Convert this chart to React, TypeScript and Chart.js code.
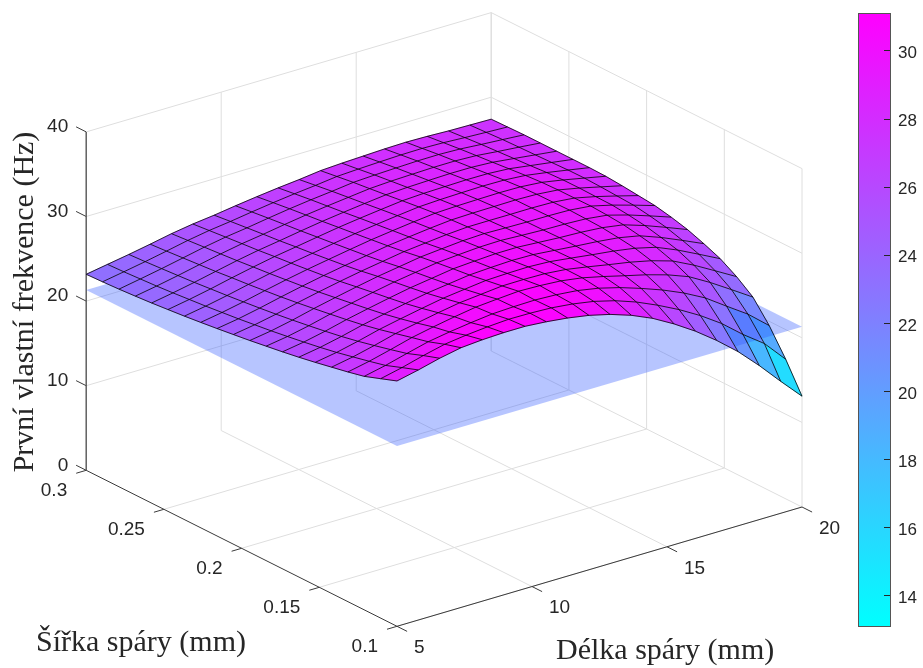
import React, { useEffect, useRef } from "react";
import { Chart, registerables } from "chart.js";

Chart.register(...registerables);

// ---- data ----
const slotLengths = [5, 5.79, 6.58, 7.37, 8.16, 8.95, 9.74, 10.53, 11.32, 12.11, 12.89, 13.68, 14.47, 15.26, 16.05, 16.84, 17.63, 18.42, 19.21, 20];
const slotWidths = [0.1, 0.1105, 0.1211, 0.1316, 0.1421, 0.1526, 0.1632, 0.1737, 0.1842, 0.1947, 0.2053, 0.2158, 0.2263, 0.2368, 0.2474, 0.2579, 0.2684, 0.2789, 0.2895, 0.3];
const firstFrequency = [
  [29.0, 29.56, 30.2, 30.7, 30.9, 31.0, 31.0, 30.8, 30.5, 30.07, 29.45, 28.6, 27.5, 26.1, 24.5, 22.66, 20.6, 18.2, 15.6, 13.1],
  [28.3, 28.87, 29.55, 30.14, 30.47, 30.71, 30.87, 30.84, 30.73, 30.45, 30.02, 29.36, 28.46, 27.34, 26.08, 24.63, 22.95, 20.91, 19.1, 16.5],
  [27.6, 28.15, 28.82, 29.46, 29.88, 30.23, 30.52, 30.63, 30.68, 30.56, 30.32, 29.86, 29.19, 28.35, 27.42, 26.32, 25.0, 23.28, 21.6, 19.5],
  [27.15, 27.67, 28.31, 28.99, 29.5, 29.96, 30.36, 30.57, 30.75, 30.67, 30.5, 30.12, 29.53, 28.88, 28.25, 27.5, 26.54, 25.11, 23.52, 21.9],
  [26.75, 27.22, 27.82, 28.49, 28.99, 29.47, 29.9, 30.16, 30.41, 30.43, 30.38, 30.14, 29.7, 29.22, 28.77, 28.2, 27.43, 26.19, 24.78, 23.35],
  [26.35, 26.78, 27.36, 28.01, 28.53, 29.02, 29.48, 29.79, 30.09, 30.18, 30.22, 30.09, 29.77, 29.43, 29.12, 28.71, 28.08, 27.01, 25.77, 24.5],
  [25.98, 26.4, 26.95, 27.58, 28.11, 28.61, 29.08, 29.42, 29.76, 29.9, 30.0, 29.95, 29.71, 29.47, 29.26, 28.97, 28.46, 27.52, 26.43, 25.3],
  [25.65, 26.06, 26.6, 27.23, 27.77, 28.29, 28.77, 29.14, 29.52, 29.69, 29.83, 29.84, 29.67, 29.5, 29.39, 29.19, 28.79, 27.96, 27.0, 26.0],
  [25.35, 25.75, 26.28, 26.91, 27.46, 27.99, 28.48, 28.87, 29.26, 29.46, 29.63, 29.68, 29.55, 29.44, 29.39, 29.27, 28.96, 28.24, 27.39, 26.5],
  [25.05, 25.45, 25.98, 26.6, 27.15, 27.68, 28.17, 28.57, 28.98, 29.21, 29.43, 29.53, 29.46, 29.41, 29.4, 29.33, 29.07, 28.44, 27.69, 26.9],
  [24.78, 25.19, 25.7, 26.3, 26.84, 27.35, 27.82, 28.23, 28.64, 28.91, 29.17, 29.34, 29.35, 29.34, 29.35, 29.29, 29.04, 28.47, 27.8, 27.1],
  [24.52, 24.93, 25.45, 26.03, 26.57, 27.07, 27.52, 27.94, 28.36, 28.67, 28.96, 29.2, 29.27, 29.3, 29.33, 29.26, 29.03, 28.51, 27.91, 27.3],
  [24.28, 24.71, 25.22, 25.8, 26.34, 26.83, 27.27, 27.7, 28.11, 28.44, 28.75, 29.02, 29.12, 29.17, 29.21, 29.17, 28.96, 28.5, 27.98, 27.45],
  [24.05, 24.49, 25.0, 25.57, 26.11, 26.6, 27.02, 27.45, 27.86, 28.2, 28.51, 28.8, 28.92, 28.99, 29.04, 29.0, 28.81, 28.41, 27.96, 27.5],
  [23.85, 24.3, 24.81, 25.38, 25.91, 26.4, 26.8, 27.22, 27.62, 27.96, 28.26, 28.55, 28.68, 28.74, 28.8, 28.78, 28.62, 28.25, 27.88, 27.5],
  [23.66, 24.11, 24.61, 25.16, 25.7, 26.17, 26.56, 26.98, 27.37, 27.7, 28.0, 28.29, 28.42, 28.5, 28.57, 28.56, 28.42, 28.12, 27.81, 27.5],
  [23.5, 23.95, 24.45, 24.99, 25.52, 25.99, 26.36, 26.77, 27.15, 27.47, 27.76, 28.05, 28.19, 28.27, 28.34, 28.35, 28.24, 27.98, 27.75, 27.5],
  [23.36, 23.82, 24.3, 24.82, 25.35, 25.8, 26.15, 26.55, 26.92, 27.24, 27.51, 27.82, 27.95, 28.04, 28.12, 28.14, 28.05, 27.85, 27.68, 27.5],
  [23.25, 23.69, 24.15, 24.65, 25.17, 25.6, 25.93, 26.31, 26.66, 26.97, 27.23, 27.54, 27.67, 27.77, 27.86, 27.89, 27.82, 27.68, 27.56, 27.45],
  [23.17, 23.6, 24.03, 24.5, 25.0, 25.4, 25.7, 26.07, 26.4, 26.7, 26.95, 27.26, 27.4, 27.5, 27.6, 27.65, 27.6, 27.5, 27.45, 27.4],
];
const requiredFrequency = 21.3;
const lengthTicks = [5, 10, 15, 20];
const widthTicks = [0.1, 0.15, 0.2, 0.25, 0.3];
const freqTicks = [0, 10, 20, 30, 40];
const widthTickLabels = ["0.1", "0.15", "0.2", "0.25", "0.3"];
const colorMin = 13.1;
const colorMax = 31.1;
const colorbarTicks = [14, 16, 18, 20, 22, 24, 26, 28, 30];

const zLabel = "První vlastní frekvence (Hz)";
const yLabel = "Šířka spáry (mm)";
const xLabel = "Délka spáry (mm)";

// ---- view: orthographic projection of the 3D axes box ----
const W = 923;
const H = 668;
function project(x: number, y: number, z: number) {
  return {
    x: 397 + (x - 5) * 27 - (y - 0.1) * 1554,
    y: 626.3 - (x - 5) * 7.953 - (y - 0.1) * 780 - z * 8.46,
  };
}
function coolColor(v: number) {
  const t = Math.min(1, Math.max(0, (v - colorMin) / (colorMax - colorMin)));
  return `rgb(${Math.round(255 * t)},${Math.round(255 * (1 - t))},255)`;
}
const GRID = "rgb(222,222,222)";
const AXIS = "#3a3a3a";
const TEXT = "#262626";
const TICK_FONT = '19px "Liberation Sans", Arial, sans-serif';
const LABEL_FONT = '30px "Liberation Serif", "Times New Roman", serif';

function lineSet(label: string, points: { x: number; y: number }[], color: string, width: number, order: number) {
  return {
    label,
    data: points,
    showLine: true,
    borderColor: color,
    backgroundColor: color,
    borderWidth: width,
    pointRadius: 0,
    tension: 0,
    fill: false,
    order,
    clip: false as const,
  };
}

function buildDatasets() {
  const sets: any[] = [];
  const xMin = lengthTicks[0];
  const xMax = lengthTicks[lengthTicks.length - 1];
  const yMin = widthTicks[0];
  const yMax = widthTicks[widthTicks.length - 1];
  const zMax = freqTicks[freqTicks.length - 1];
  // grid on the floor and the two back walls
  lengthTicks.forEach((x) => {
    if (x > xMin) {
      sets.push(lineSet("grid", [project(x, yMin, 0), project(x, yMax, 0), project(x, yMax, zMax)], GRID, 1, 5));
    }
  });
  widthTicks.forEach((y) => {
    if (y < yMax) {
      sets.push(lineSet("grid", [project(xMin, y, 0), project(xMax, y, 0), project(xMax, y, zMax)], GRID, 1, 5));
    }
  });
  freqTicks.forEach((z) => {
    if (z > 0) {
      sets.push(lineSet("grid", [project(xMin, yMax, z), project(xMax, yMax, z), project(xMax, yMin, z)], GRID, 1, 5));
    }
  });
  sets.push(lineSet("grid", [project(xMax, yMax, 0), project(xMax, yMax, zMax)], GRID, 1, 5));
  // dark axes
  sets.push(lineSet("axis", [project(xMin, yMin, 0), project(xMax, yMin, 0)], AXIS, 1, 4));
  sets.push(lineSet("axis", [project(xMin, yMax, 0), project(xMin, yMin, 0)], AXIS, 1, 4));
  sets.push(lineSet("axis", [project(xMin, yMax, 0), project(xMin, yMax, zMax)], "#555", 1.4, 4));
  lengthTicks.forEach((x) => sets.push(lineSet("tick", [project(x, yMin, 0), project(x, yMin - 0.0065, 0)], AXIS, 1, 4)));
  widthTicks.forEach((y) => sets.push(lineSet("tick", [project(xMin, y, 0), project(xMin - 0.37, y, 0)], AXIS, 1, 4)));
  freqTicks.forEach((z) => sets.push(lineSet("tick", [project(xMin, yMax, z), project(xMin, yMax + 0.0065, z)], AXIS, 1, 4)));
  // required frequency plane and surface nodes: painted by the cell plugin from these parsed points
  sets.push({
    ...lineSet("plane", [
      project(xMin, yMin, requiredFrequency),
      project(xMax, yMin, requiredFrequency),
      project(xMax, yMax, requiredFrequency),
      project(xMin, yMax, requiredFrequency),
    ], "rgba(0,0,0,0)", 0, 3),
    showLine: false,
  });
  const nodes: { x: number; y: number }[] = [];
  slotWidths.forEach((y, j) => slotLengths.forEach((x, i) => nodes.push(project(x, y, firstFrequency[j][i]))));
  sets.push({ ...lineSet("surface", nodes, "rgba(0,0,0,0)", 0, 3), showLine: false });
  // mesh lines
  slotWidths.forEach((y, j) =>
    sets.push(lineSet("mesh", slotLengths.map((x, i) => project(x, y, firstFrequency[j][i])), "#000", 0.8, 1))
  );
  slotLengths.forEach((x, i) =>
    sets.push(lineSet("mesh", slotWidths.map((y, j) => project(x, y, firstFrequency[j][i])), "#000", 0.8, 1))
  );
  return sets;
}

const surfacePlugin = {
  id: "surfaceCells",
  beforeDatasetDraw(chart: any, args: any) {
    const ds = chart.data.datasets[args.index];
    if (ds.label !== "surface") return;
    const ctx = chart.ctx;
    const meta = args.meta;
    const planeIdx = chart.data.datasets.findIndex((d: any) => d.label === "plane");
    const planePts = chart.getDatasetMeta(planeIdx).data;
    const nx = slotLengths.length;
    const ny = slotWidths.length;
    const cell = (i: number, j: number) => {
      const c = [meta.data[j * nx + i], meta.data[j * nx + i + 1], meta.data[(j + 1) * nx + i + 1], meta.data[(j + 1) * nx + i]];
      ctx.beginPath();
      ctx.moveTo(c[0].x, c[0].y);
      for (let k = 1; k < 4; k++) ctx.lineTo(c[k].x, c[k].y);
      ctx.closePath();
      const col = coolColor(firstFrequency[j][i]);
      ctx.fillStyle = col;
      ctx.strokeStyle = col;
      ctx.lineWidth = 0.5;
      ctx.fill();
      ctx.stroke();
    };
    const meanOf = (i: number, j: number) =>
      (firstFrequency[j][i] + firstFrequency[j][i + 1] + firstFrequency[j + 1][i] + firstFrequency[j + 1][i + 1]) / 4;
    ctx.save();
    for (let j = ny - 2; j >= 0; j--) for (let i = nx - 2; i >= 0; i--) if (meanOf(i, j) < requiredFrequency) cell(i, j);
    ctx.beginPath();
    planePts.forEach((p: any, k: number) => (k ? ctx.lineTo(p.x, p.y) : ctx.moveTo(p.x, p.y)));
    ctx.closePath();
    ctx.fillStyle = "rgba(50,90,255,0.35)";
    ctx.fill();
    for (let j = ny - 2; j >= 0; j--) for (let i = nx - 2; i >= 0; i--) if (meanOf(i, j) >= requiredFrequency) cell(i, j);
    ctx.restore();
  },
};

const textPlugin = {
  id: "axisText",
  afterDraw(chart: any) {
    const ctx = chart.ctx;
    const sx = chart.scales.x;
    const sy = chart.scales.y;
    const xMin = lengthTicks[0];
    const yMin = widthTicks[0];
    const yMax = widthTicks[widthTicks.length - 1];
    const put = (text: string, p: { x: number; y: number }, dx: number, dy: number, align: CanvasTextAlign) => {
      ctx.textAlign = align;
      ctx.fillText(text, sx.getPixelForValue(p.x) + dx, sy.getPixelForValue(p.y) + dy);
    };
    ctx.save();
    ctx.fillStyle = TEXT;
    ctx.font = TICK_FONT;
    ctx.textBaseline = "middle";
    freqTicks.forEach((z) => put(String(z), project(xMin, yMax, z), -18, -5, "right"));
    widthTicks.forEach((y, k) => put(widthTickLabels[k], project(xMin, y, 0), -19, 20, "right"));
    lengthTicks.forEach((x) => put(String(x), project(x, yMin, 0), 17, 21.5, "left"));
    ctx.font = LABEL_FONT;
    ctx.textBaseline = "alphabetic";
    ctx.textAlign = "left";
    ctx.fillText(yLabel, 36, 651);
    ctx.fillText(xLabel, 556, 659);
    ctx.translate(33, 302);
    ctx.rotate(-Math.PI / 2);
    ctx.textAlign = "center";
    ctx.fillText(zLabel, 0, 0);
    ctx.restore();
  },
};

const colorbarFrame = {
  id: "colorbarFrame",
  afterDraw(chart: any) {
    const { ctx, chartArea: a, scales } = chart;
    ctx.save();
    ctx.strokeStyle = "#555";
    ctx.lineWidth = 1;
    ctx.strokeRect(a.left + 0.5, a.top + 0.5, a.right - a.left, a.bottom - a.top);
    ctx.strokeStyle = "#262626";
    scales.y.ticks.forEach((t: any) => {
      const yy = Math.round(scales.y.getPixelForValue(t.value)) + 0.5;
      ctx.beginPath();
      ctx.moveTo(a.right - 6, yy);
      ctx.lineTo(a.right, yy);
      ctx.stroke();
    });
    ctx.restore();
  },
};

export default function App() {
  const mainRef = useRef<HTMLCanvasElement>(null);
  const barRef = useRef<HTMLCanvasElement>(null);
  useEffect(() => {
    const main = new Chart(mainRef.current!, {
      type: "scatter",
      data: { datasets: buildDatasets() },
      options: {
        animation: false,
        responsive: false,
        events: [],
        layout: { padding: 0 },
        plugins: { legend: { display: false }, tooltip: { enabled: false } },
        scales: {
          x: { type: "linear", min: 0, max: W, display: false },
          y: { type: "linear", min: 0, max: H, reverse: true, display: false },
        },
      },
      plugins: [surfacePlugin, textPlugin],
    } as any);
    const bar = new Chart(barRef.current!, {
      type: "bar",
      data: {
        labels: ["colorbar"],
        datasets: [
          {
            data: [[colorMin, colorMax]],
            barPercentage: 1,
            categoryPercentage: 1,
            backgroundColor: (c: any) => {
              const a = c.chart.chartArea;
              if (!a) return "#f0f";
              const g = c.chart.ctx.createLinearGradient(0, a.bottom, 0, a.top);
              g.addColorStop(0, "rgb(0,255,255)");
              g.addColorStop(1, "rgb(255,0,255)");
              return g;
            },
          },
        ],
      },
      options: {
        animation: false,
        responsive: false,
        events: [],
        layout: { padding: { left: 8, top: 13, bottom: 42, right: 0 } },
        plugins: { legend: { display: false }, tooltip: { enabled: false } },
        scales: {
          x: { display: false },
          y: {
            position: "right",
            min: colorMin,
            max: colorMax,
            grid: { display: false, drawTicks: false },
            border: { display: false },
            afterFit: (s: any) => {
              s.width = 33;
              s.paddingTop = 0;
              s.paddingBottom = 0;
            },
            afterBuildTicks: (s: any) => {
              s.ticks = colorbarTicks.map((value) => ({ value }));
            },
            ticks: {
              padding: 8,
              color: TEXT,
              labelOffset: 3,
              font: { family: '"Liberation Sans", Arial, sans-serif', size: 17 },
              autoSkip: false,
            },
          },
        },
      },
      plugins: [colorbarFrame],
    } as any);
    return () => {
      main.destroy();
      bar.destroy();
    };
  }, []);
  return (
    <div style={{ position: "fixed", left: 0, top: 0, width: W, height: H, background: "#fff" }}>
      <canvas ref={mainRef} width={W} height={H} style={{ position: "absolute", left: 0, top: 0 }} />
      <canvas ref={barRef} width={73} height={H} style={{ position: "absolute", left: 850, top: 0 }} />
    </div>
  );
}
